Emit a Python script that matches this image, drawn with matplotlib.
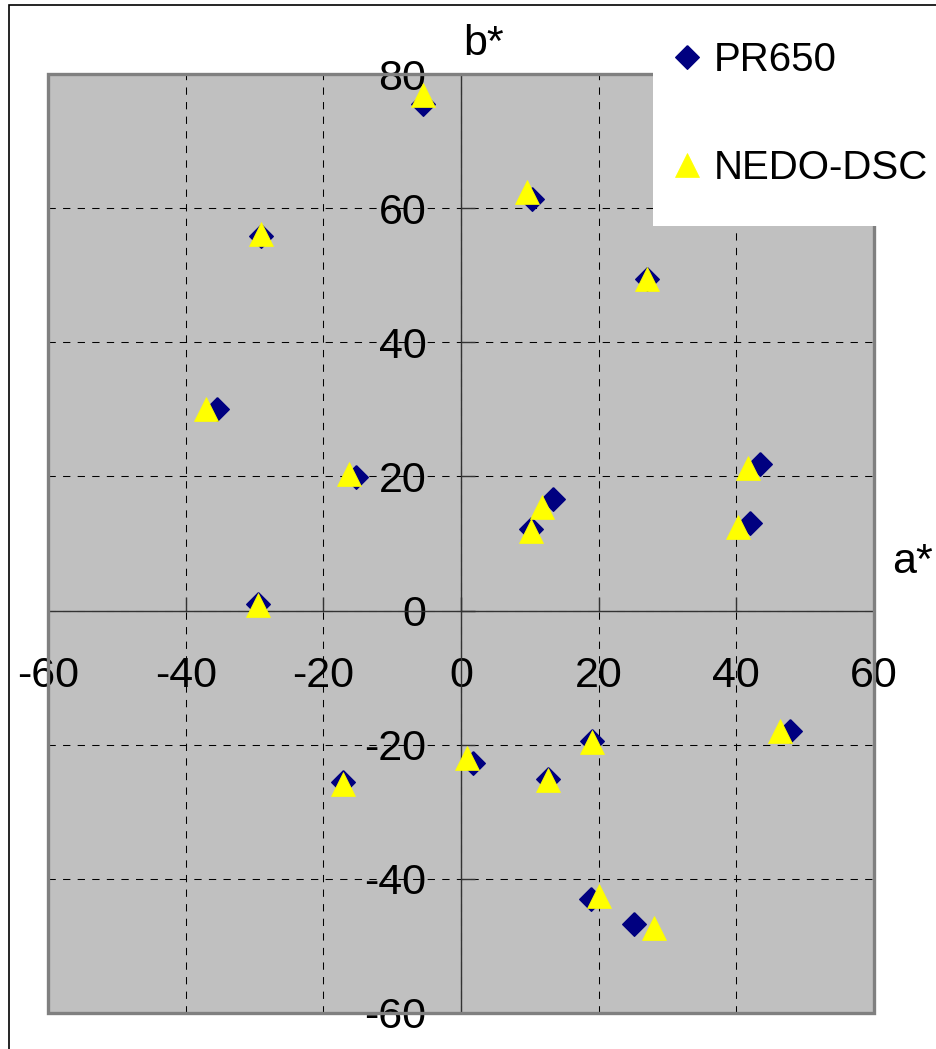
import matplotlib
matplotlib.use("Agg")
import matplotlib.pyplot as plt
from matplotlib.patches import Rectangle

plt.rcParams["font.family"] = ["Liberation Sans", "DejaVu Sans"]
plt.rcParams["axes.unicode_minus"] = False

# CIELAB a*, b* readings for the colour patches
pr650_a = [-5.5, -29.0, -35.5, -15.2, -29.5, 10.3, 27.0, 13.4, 10.2, 43.5, 42.0,
           -17.2, 1.7, 12.6, 19.1, 47.8, 18.9, 25.2]
pr650_b = [75.5, 55.8, 30.1, 19.9, 1.0, 61.4, 49.5, 16.7, 12.2, 21.9, 13.0,
           -25.6, -22.7, -25.1, -19.4, -17.9, -43.0, -46.8]
nedo_a = [-5.5, -29.0, -37.1, -16.3, -29.5, 9.6, 27.0, 11.7, 10.2, 41.7, 40.2,
          -17.2, 0.9, 12.6, 19.1, 46.4, 20.1, 28.1]
nedo_b = [76.9, 56.2, 30.1, 20.3, 0.9, 62.4, 49.4, 15.5, 11.8, 21.3, 12.4,
          -25.8, -22.0, -25.2, -19.6, -18.0, -42.5, -47.4]
ticks_a = [-60, -40, -20, 0, 20, 40, 60]
ticks_b = [-60, -40, -20, 0, 20, 40, 60, 80]

W, H = 937, 1049
fig = plt.figure(figsize=(W / 100, H / 100), dpi=100)
ax = fig.add_axes([48 / W, 1 - 1013 / H, 826 / W, 939 / H])
ax.set_facecolor("#C0C0C0")

diamond = [(0, 1), (1, 0), (0, -1), (-1, 0), (0, 1)]
ax.plot(pr650_a, pr650_b, ls="none", marker=diamond, ms=17,
        color="#000080", mec="#000080", label="PR650", zorder=3)
ax.plot(nedo_a, nedo_b, ls="none", marker="^", ms=17.5,
        color="#FFFF00", mec="#FFFF00", mew=0.5, label="NEDO-DSC", zorder=4)

ax.set_xlim(-60, 60)
ax.set_ylim(-60, 80)
ax.set_xticks(ticks_a)
ax.set_yticks(ticks_b)
ax.grid(True, color="black", linestyle=(0, (7, 7)), lw=0.75)
ax.set_axisbelow(True)

for s in ["top", "right"]:
    ax.spines[s].set_visible(False)
for s in ["left", "bottom"]:
    ax.spines[s].set_position("zero")
    ax.spines[s].set_color("#333333")
    ax.spines[s].set_linewidth(1.0)
ax.add_patch(Rectangle((0, 0), 1, 1, transform=ax.transAxes, fill=False,
                       edgecolor="#808080", lw=2.4, clip_on=False, zorder=5))

ax.tick_params(direction="in", length=10, width=1, color="#333333", labelsize=31)
ax.tick_params(axis="x", pad=33)
ax.tick_params(axis="y", pad=25)

fig.text(463 / W, 1 - 55 / H, "b*", fontsize=31, va="baseline")
fig.text(892 / W, 1 - 573 / H, "a*", fontsize=31, va="baseline")

# white legend box over the top-right corner
fig.patches.append(Rectangle((653 / W, 1 - 226 / H), 0.4, 0.3,
                             transform=fig.transFigure, facecolor="white",
                             edgecolor="none", zorder=10))
leg = fig.legend(loc="upper left", bbox_to_anchor=(675 / W, 1 - 41 / H),
                 frameon=False, fontsize=29, handlelength=0.62,
                 handletextpad=0.33, labelspacing=1.75, borderpad=0,
                 borderaxespad=0, numpoints=1)
leg.set_zorder(11)

# outer chart border
fig.patches.append(Rectangle((9 / W, -0.1), 1.2, 1.1 - 5 / H,
                             transform=fig.transFigure, fill=False,
                             edgecolor="black", lw=1.2, zorder=12))

fig.savefig("out.png", dpi=100)
